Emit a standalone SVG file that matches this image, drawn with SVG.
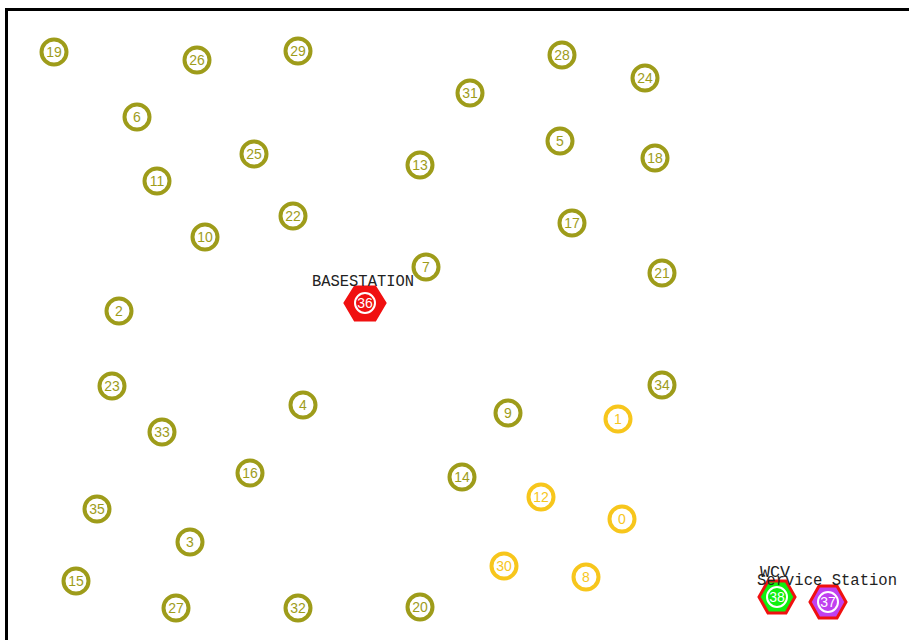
<svg xmlns="http://www.w3.org/2000/svg" width="909" height="640" viewBox="0 0 909 640">
<style>
.n circle{fill:#fff;stroke:#9e9c1a;stroke-width:4}
.n text{fill:#9e9c1a;font-family:"Liberation Sans",sans-serif;font-size:14px;text-anchor:middle;dominant-baseline:central}
.g circle{fill:#fff;stroke:#f7c61c;stroke-width:4}
.g text{fill:#f7c61c;font-family:"Liberation Sans",sans-serif;font-size:14px;text-anchor:middle;dominant-baseline:central}
.h polygon{stroke:#f01010;stroke-width:3}
.h circle{fill:none;stroke:#fff;stroke-width:2}
.h text.num{fill:#fff;font-family:"Liberation Sans",sans-serif;font-size:14px;text-anchor:middle;dominant-baseline:central}
.h text.lbl{fill:#222;font-family:"Liberation Mono",monospace;font-size:16px;text-anchor:start}
</style>
<rect width="909" height="640" fill="#fff"/>
<g id="border" stroke="#000" stroke-width="3">
<line x1="5" y1="9.5" x2="909" y2="9.5"/>
<line x1="6.5" y1="8" x2="6.5" y2="640"/>
</g>
<g id="connectors"></g>
<g id="node19" class="n"><circle cx="54" cy="52" r="12.5"/><text x="54" y="52">19</text></g>
<g id="node26" class="n"><circle cx="197" cy="60" r="12.5"/><text x="197" y="60">26</text></g>
<g id="node29" class="n"><circle cx="298" cy="51" r="12.5"/><text x="298" y="51">29</text></g>
<g id="node28" class="n"><circle cx="562" cy="55" r="12.5"/><text x="562" y="55">28</text></g>
<g id="node24" class="n"><circle cx="645" cy="78" r="12.5"/><text x="645" y="78">24</text></g>
<g id="node31" class="n"><circle cx="470" cy="93" r="12.5"/><text x="470" y="93">31</text></g>
<g id="node6" class="n"><circle cx="137" cy="117" r="12.5"/><text x="137" y="117">6</text></g>
<g id="node25" class="n"><circle cx="254" cy="154" r="12.5"/><text x="254" y="154">25</text></g>
<g id="node13" class="n"><circle cx="420" cy="165" r="12.5"/><text x="420" y="165">13</text></g>
<g id="node5" class="n"><circle cx="560" cy="141" r="12.5"/><text x="560" y="141">5</text></g>
<g id="node18" class="n"><circle cx="655" cy="158" r="12.5"/><text x="655" y="158">18</text></g>
<g id="node11" class="n"><circle cx="157" cy="181" r="12.5"/><text x="157" y="181">11</text></g>
<g id="node22" class="n"><circle cx="293" cy="216" r="12.5"/><text x="293" y="216">22</text></g>
<g id="node17" class="n"><circle cx="572" cy="223" r="12.5"/><text x="572" y="223">17</text></g>
<g id="node10" class="n"><circle cx="205" cy="237" r="12.5"/><text x="205" y="237">10</text></g>
<g id="node7" class="n"><circle cx="426" cy="267" r="12.5"/><text x="426" y="267">7</text></g>
<g id="node21" class="n"><circle cx="662" cy="273" r="12.5"/><text x="662" y="273">21</text></g>
<g id="node2" class="n"><circle cx="119" cy="311" r="12.5"/><text x="119" y="311">2</text></g>
<g id="node23" class="n"><circle cx="112" cy="386" r="12.5"/><text x="112" y="386">23</text></g>
<g id="node34" class="n"><circle cx="662" cy="385" r="12.5"/><text x="662" y="385">34</text></g>
<g id="node4" class="n"><circle cx="303" cy="405" r="12.5"/><text x="303" y="405">4</text></g>
<g id="node9" class="n"><circle cx="508" cy="413" r="12.5"/><text x="508" y="413">9</text></g>
<g id="node33" class="n"><circle cx="162" cy="432" r="12.5"/><text x="162" y="432">33</text></g>
<g id="node16" class="n"><circle cx="250" cy="473" r="12.5"/><text x="250" y="473">16</text></g>
<g id="node14" class="n"><circle cx="462" cy="477" r="12.5"/><text x="462" y="477">14</text></g>
<g id="node35" class="n"><circle cx="97" cy="509" r="12.5"/><text x="97" y="509">35</text></g>
<g id="node3" class="n"><circle cx="190" cy="542" r="12.5"/><text x="190" y="542">3</text></g>
<g id="node15" class="n"><circle cx="76" cy="581" r="12.5"/><text x="76" y="581">15</text></g>
<g id="node27" class="n"><circle cx="176" cy="608" r="12.5"/><text x="176" y="608">27</text></g>
<g id="node32" class="n"><circle cx="298" cy="608" r="12.5"/><text x="298" y="608">32</text></g>
<g id="node20" class="n"><circle cx="420" cy="607" r="12.5"/><text x="420" y="607">20</text></g>
<g id="node1" class="g"><circle cx="618" cy="419" r="12.5"/><text x="618" y="419">1</text></g>
<g id="node12" class="g"><circle cx="541" cy="497" r="12.5"/><text x="541" y="497">12</text></g>
<g id="node0" class="g"><circle cx="622" cy="519" r="12.5"/><text x="622" y="519">0</text></g>
<g id="node30" class="g"><circle cx="504" cy="566" r="12.5"/><text x="504" y="566">30</text></g>
<g id="node8" class="g"><circle cx="586" cy="577" r="12.5"/><text x="586" y="577">8</text></g>
<g id="node36" class="h">
<polygon points="345,303 355,287 375,287 385,303 375,320 355,320" fill="#f01010"/>
<circle cx="365" cy="303" r="10"/><text class="num" x="365" y="303">36</text>
<text class="lbl" x="312" y="286" textLength="102" lengthAdjust="spacingAndGlyphs">BASESTATION</text>
</g>
<g id="node38" class="h">
<polygon points="759,597 768,581 786,581 795,597 786,613 768,613" fill="#10f010"/>
<circle cx="777" cy="597" r="10"/><text class="num" x="777" y="597">38</text>
<text class="lbl" x="760" y="577" textLength="30" lengthAdjust="spacingAndGlyphs">WCV</text>
</g>
<g id="node37" class="h">
<polygon points="810,602 819,586 837,586 846,602 837,618 819,618" fill="#c040f0"/>
<circle cx="828" cy="602" r="10"/><text class="num" x="828" y="602">37</text>
<text class="lbl" x="757" y="585" textLength="140" lengthAdjust="spacingAndGlyphs">Service Station</text>
</g>
</svg>
